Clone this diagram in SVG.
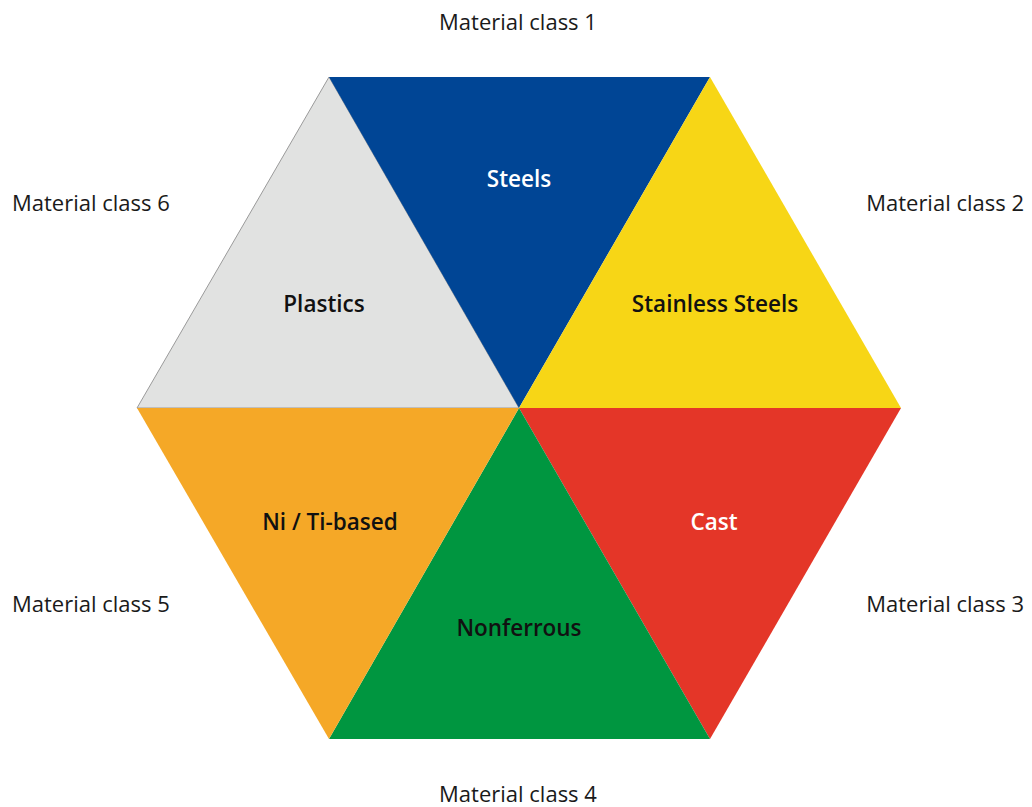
<svg xmlns="http://www.w3.org/2000/svg" width="1032" height="807" viewBox="0 0 1032 807">
<style>
.cls{font-family:"Open Sans","Noto Sans",sans-serif;font-size:22px;fill:#1a1a1a;}
.lbl{font-family:"Open Sans","Noto Sans",sans-serif;font-size:22.5px;font-weight:600;text-anchor:middle;}
</style>
<rect width="1032" height="807" fill="#fff"/>
<g id="plastics">
<polygon points="329,77 519,408 137,408" fill="#e1e2e1" stroke="#9a9a9a" stroke-width="1"/>
<text class="lbl" x="324" y="312" fill="#111">Plastics</text>
</g>
<g id="steels">
<polygon points="329,77 710,77 519,408" fill="#004595"/>
<text class="lbl" x="519" y="187" fill="#fff">Steels</text>
</g>
<g id="stainless">
<polygon points="710,77 901,408 519,408" fill="#f7d616"/>
<text class="lbl" x="715" y="312" fill="#111">Stainless Steels</text>
</g>
<g id="cast">
<polygon points="519,408 901,408 710,739" fill="#e43628"/>
<text class="lbl" x="714" y="530" fill="#fff">Cast</text>
</g>
<g id="nonferrous">
<polygon points="519,408 710,739 329,739" fill="#009640"/>
<text class="lbl" x="519" y="636" fill="#111">Nonferrous</text>
</g>
<g id="nitibased">
<polygon points="137,408 519,408 329,739" fill="#f5a827"/>
<text class="lbl" x="330" y="530" fill="#111">Ni / Ti-based</text>
</g>
<g id="connectors"></g>
<g id="classes">
<text class="cls" x="518" y="30" text-anchor="middle">Material class 1</text>
<text class="cls" x="1024" y="211" text-anchor="end">Material class 2</text>
<text class="cls" x="1024" y="612" text-anchor="end">Material class 3</text>
<text class="cls" x="518" y="802" text-anchor="middle">Material class 4</text>
<text class="cls" x="12" y="612">Material class 5</text>
<text class="cls" x="12" y="211">Material class 6</text>
</g>
</svg>
